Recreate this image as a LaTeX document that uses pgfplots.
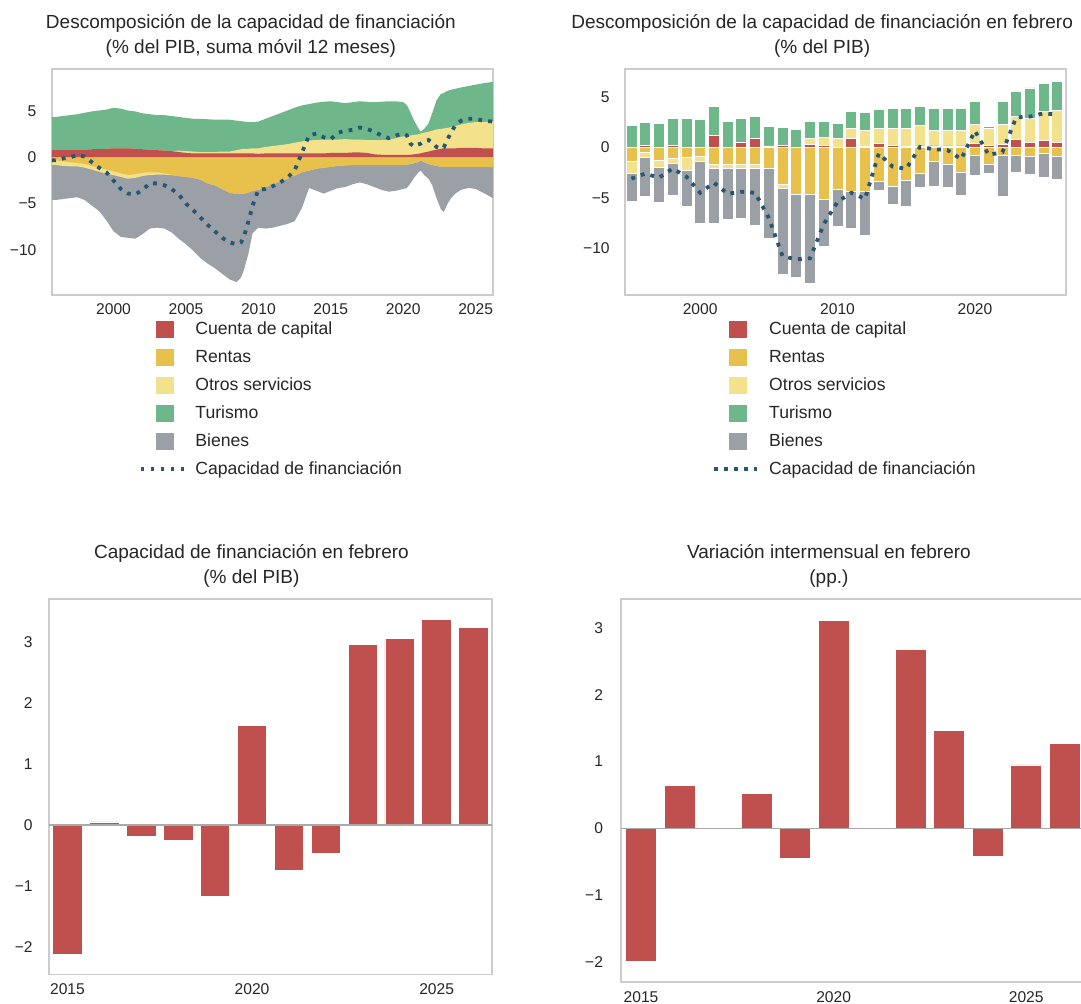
\documentclass[border=0pt]{standalone}
\usepackage{fontspec}
\setmainfont{Liberation Sans}
\usepackage{pgfplots}
\usepackage{pgfplotstable}
\pgfplotsset{compat=1.18}

\definecolor{cCap}{RGB}{192,80,77}
\definecolor{cRen}{RGB}{232,193,77}
\definecolor{cOtr}{RGB}{243,225,140}
\definecolor{cTur}{RGB}{110,183,139}
\definecolor{cBie}{RGB}{155,160,167}
\definecolor{cSal}{RGB}{38,86,117}
\definecolor{cTxt}{RGB}{38,38,38}
\definecolor{cFrame}{RGB}{204,204,204}
\definecolor{cZero}{RGB}{170,170,170}

% suma movil 12 meses: C capital, R rentas, O otros servicios, T turismo, B bienes, N saldo
\pgfplotstableread{
t C R O T B N
1995.75 0.80 -0.30 -0.50 3.60 -3.80 -0.30
1996.00 0.80 -0.30 -0.50 3.60 -3.80 -0.30
1996.50 0.85 -0.40 -0.50 3.65 -3.60 -0.10
1997.00 0.85 -0.50 -0.45 3.75 -3.45 0.00
1997.50 0.85 -0.60 -0.35 3.85 -3.35 0.30
1998.00 0.85 -0.70 -0.40 4.00 -3.50 0.10
1998.50 0.90 -0.90 -0.40 4.10 -3.90 -0.50
1999.00 0.90 -1.10 -0.45 4.20 -4.25 -1.10
1999.50 0.95 -1.30 -0.45 4.25 -5.05 -1.60
2000.00 1.00 -1.50 -0.40 4.40 -6.10 -2.50
2000.50 1.00 -1.70 -0.40 4.30 -6.50 -3.40
2001.00 1.00 -1.90 -0.40 4.10 -6.40 -3.90
2001.50 0.95 -1.80 -0.40 4.05 -6.60 -4.00
2002.00 0.90 -1.65 -0.35 3.90 -6.30 -3.50
2002.50 0.85 -1.60 -0.30 3.85 -5.80 -2.80
2003.00 0.80 -1.60 -0.25 3.80 -5.75 -2.80
2003.50 0.75 -1.70 -0.15 3.85 -5.85 -3.00
2004.00 0.70 -1.85 -0.05 3.80 -6.20 -3.40
2004.50 0.60 -2.00 0.15 3.65 -6.80 -4.00
2005.00 0.50 -2.10 0.20 3.60 -7.30 -5.00
2005.50 0.45 -2.20 0.20 3.55 -7.90 -5.70
2006.00 0.45 -2.40 0.15 3.60 -8.50 -6.50
2006.50 0.45 -2.80 0.15 3.55 -8.70 -7.30
2007.00 0.45 -3.00 0.15 3.50 -9.00 -8.00
2007.50 0.45 -3.40 0.20 3.45 -9.20 -8.70
2008.00 0.45 -3.80 0.20 3.45 -9.40 -9.20
2008.50 0.45 -3.95 0.35 3.20 -9.55 -9.40
2008.80 0.45 -3.95 0.45 3.05 -9.05 -9.20
2009.00 0.45 -3.90 0.50 2.95 -8.30 -8.60
2009.30 0.45 -3.80 0.50 2.90 -6.70 -7.00
2009.60 0.45 -3.60 0.55 2.85 -4.60 -5.20
2010.00 0.40 -3.50 0.60 2.90 -4.10 -3.50
2010.50 0.45 -3.20 0.70 3.05 -4.50 -3.40
2011.00 0.45 -2.90 0.80 3.25 -4.70 -3.10
2011.50 0.45 -2.60 0.90 3.45 -4.80 -2.70
2012.00 0.45 -2.30 1.00 3.65 -4.90 -2.20
2012.50 0.45 -1.95 1.15 3.80 -4.95 -1.40
2013.00 0.45 -1.60 1.30 3.90 -3.90 0.50
2013.50 0.45 -1.40 1.40 3.95 -1.90 2.40
2014.00 0.45 -1.20 1.45 4.05 -2.40 2.60
2014.50 0.45 -1.10 1.50 4.10 -2.80 2.20
2015.00 0.50 -1.00 1.45 4.15 -2.60 2.00
2015.50 0.50 -0.90 1.45 4.05 -2.40 2.70
2016.00 0.50 -0.85 1.50 3.90 -2.35 2.90
2016.50 0.55 -0.80 1.40 4.05 -2.10 3.00
2017.00 0.55 -0.80 1.40 4.15 -1.90 3.25
2017.50 0.50 -0.80 1.40 4.15 -2.10 3.10
2018.00 0.35 -0.80 1.55 4.10 -2.40 2.80
2018.50 0.30 -0.80 1.60 4.15 -2.70 2.40
2019.00 0.30 -0.80 1.65 4.15 -2.90 2.10
2019.50 0.30 -0.80 1.80 4.00 -2.80 2.40
2020.00 0.30 -0.80 2.00 3.70 -2.60 2.60
2020.25 0.30 -0.75 2.05 3.35 -2.55 2.40
2020.50 0.30 -0.70 2.10 2.50 -2.10 1.50
2020.75 0.35 -0.60 2.10 1.55 -1.60 1.20
2021.00 0.40 -0.50 2.10 0.80 -1.20 1.40
2021.20 0.45 -0.30 2.15 0.20 -1.10 1.50
2021.45 0.55 -0.50 2.15 0.40 -1.40 1.80
2021.75 0.65 -0.70 2.15 0.90 -1.60 1.90
2022.00 0.75 -0.80 2.15 1.90 -2.20 1.60
2022.30 0.85 -0.90 2.20 3.15 -3.50 1.15
2022.60 0.95 -1.00 2.15 3.80 -4.60 0.95
2022.80 1.00 -1.00 2.15 3.85 -4.90 1.10
2023.00 1.00 -1.00 2.20 4.00 -4.20 1.80
2023.30 1.00 -1.00 2.30 4.05 -3.40 2.70
2023.60 1.00 -1.00 2.40 4.05 -2.90 3.50
2024.00 1.05 -1.00 2.55 4.00 -2.50 4.00
2024.50 1.05 -1.00 2.70 4.00 -2.30 4.20
2025.00 1.05 -1.00 2.80 4.05 -2.40 4.20
2025.50 1.00 -1.00 2.85 4.20 -2.80 4.00
2026.20 1.00 -1.00 2.85 4.35 -3.40 3.90
}\mensual

% febrero de cada año
\pgfplotstableread{
yr C R O T B N
1995 0.00 -1.42 -1.16 2.22 -2.75 -3.10
1996 0.23 -0.53 -0.43 2.25 -3.94 -2.60
1997 0.00 -1.26 -0.69 2.38 -3.55 -3.00
1998 0.23 -1.09 -0.53 2.65 -3.11 -2.10
1999 0.00 -0.99 -1.29 2.88 -3.55 -2.90
2000 0.00 -0.93 -0.49 2.81 -6.08 -4.50
2001 1.22 -1.69 -0.39 2.82 -5.42 -3.50
2002 0.00 -1.69 -0.39 2.55 -5.07 -4.60
2003 0.46 -1.69 -0.39 2.42 -4.97 -4.40
2004 0.89 -1.69 -0.39 2.16 -5.62 -4.50
2005 0.00 -2.12 0.15 1.95 -6.88 -7.00
2006 0.20 -3.70 -0.40 1.78 -8.50 -10.80
2007 0.00 -4.63 0.00 1.82 -8.22 -11.10
2008 0.30 -4.63 0.63 1.65 -8.87 -11.00
2009 0.20 -5.13 0.80 1.58 -4.70 -7.60
2010 0.00 -4.20 0.93 1.49 -3.64 -5.40
2011 0.93 -4.37 0.92 1.73 -3.70 -4.50
2012 0.10 -4.37 1.55 1.86 -4.37 -5.10
2013 0.35 -3.37 1.50 1.89 -0.93 -0.60
2014 0.23 -3.87 1.62 2.05 -1.76 -1.90
2015 0.10 -3.31 1.75 2.05 -2.55 -2.12
2016 0.15 -2.62 2.03 1.89 -1.35 0.05
2017 0.15 -1.39 1.54 2.21 -2.48 -0.18
2018 0.15 -1.65 1.54 2.21 -2.32 -0.26
2019 0.15 -2.45 1.54 2.15 -2.35 -1.17
2020 0.35 -0.83 1.97 2.25 -1.95 1.64
2021 0.20 -1.65 1.65 0.23 -0.90 -0.74
2022 0.30 -0.83 2.02 2.25 -4.07 -0.47
2023 0.80 -0.80 2.28 2.49 -1.65 2.97
2024 0.50 -0.90 2.41 2.99 -1.75 3.06
2025 0.66 -0.56 2.92 2.81 -2.39 3.38
2026 0.50 -0.90 3.18 2.88 -2.31 3.25
}\febrero

\pgfplotstableread{
yr v
2015 -2.12
2016 0.05
2017 -0.18
2018 -0.26
2019 -1.17
2020 1.64
2021 -0.74
2022 -0.47
2023 2.97
2024 3.06
2025 3.38
2026 3.25
}\capfeb

\pgfplotstableread{
yr v
2015 -1.98
2016 0.64
2017 0.01
2018 0.52
2019 -0.45
2020 3.11
2021 -0.02
2022 2.67
2023 1.46
2024 -0.41
2025 0.95
2026 1.27
}\varfeb

\pgfplotsset{
  panel/.style={
    scale only axis, anchor=south west,
    axis line style={cFrame, line width=0.8pt},
    major tick length=0pt,
    tick label style={font=\fontsize{7.8}{9}\selectfont, color=cTxt, inner sep=0pt},
    title style={font=\fontsize{9.5}{12.5}\selectfont, color=cTxt, align=center,
      anchor=south, inner sep=0pt, yshift=-0.3pt},
  },
  sqleg/.style={legend image code/.code={
    \fill[##1, draw=none] (7.5pt,-4.25pt) rectangle (16.5pt,4.25pt);
    \path (0pt,0pt) (21.5pt,0pt);}},
  lineleg/.style={legend image code/.code={
    \draw[##1] (0pt,0pt) -- (21.5pt,0pt);}},
  leyenda/.style={
    legend style={at={(#1,-0.115)}, anchor=north west, draw=none, fill=none,
      inner sep=0pt, row sep=5.5pt, font=\fontsize{8.8}{10.5}\selectfont,
      nodes={inner sep=0pt, text=cTxt},
      /tikz/every odd column/.append style={column sep=5pt}},
    legend cell align=left},
  saldo/.style={cSal, line width=1.9pt, dash pattern=on 1.9pt off 3.1pt},
  barra/.style={ybar, bar width=0.8, bar shift=0pt, draw=white, line width=0.4pt, forget plot},
}

\begin{document}
\begin{tikzpicture}
\path[use as bounding box] (0pt,0pt) rectangle (540.5pt,-502pt);

% ---- arriba izquierda: areas apiladas ----
\begin{axis}[panel, at={(26pt,-147.5pt)}, width=220.5pt, height=113pt,
  xmin=1995.75, xmax=2026.2, ymin=-14.9, ymax=9.6,
  xtick={2000,2005,...,2025}, xticklabels={2000,2005,2010,2015,2020,2025},
  ytick={-10,-5,0,5}, yticklabels={−10,−5,0,5},
  xticklabel style={yshift=-4pt}, yticklabel style={xshift=-7.6pt},
  title style={at={(0.451,1)}},
  title={Descomposición de la capacidad de financiación\\(\% del PIB, suma móvil 12 meses)},
  leyenda=0.1955]
\addlegendimage{sqleg, fill=cCap}\addlegendentry{Cuenta de capital}
\addlegendimage{sqleg, fill=cRen}\addlegendentry{Rentas}
\addlegendimage{sqleg, fill=cOtr}\addlegendentry{Otros servicios}
\addlegendimage{sqleg, fill=cTur}\addlegendentry{Turismo}
\addlegendimage{sqleg, fill=cBie}\addlegendentry{Bienes}
\addlegendimage{lineleg, saldo}\addlegendentry{Capacidad de financiación}
\addplot[fill=cTur, draw=none, forget plot] table[x=t, y expr={\thisrow{C}+max(\thisrow{O},0)+\thisrow{T}}] {\mensual} \closedcycle;
\addplot[fill=cOtr, draw=none, forget plot] table[x=t, y expr={\thisrow{C}+max(\thisrow{O},0)}] {\mensual} \closedcycle;
\addplot[fill=cCap, draw=none, forget plot] table[x=t, y=C] {\mensual} \closedcycle;
\addplot[fill=cBie, draw=none, forget plot] table[x=t, y expr={\thisrow{R}+min(\thisrow{O},0)+\thisrow{B}}] {\mensual} \closedcycle;
\addplot[fill=cOtr, draw=none, forget plot] table[x=t, y expr={\thisrow{R}+min(\thisrow{O},0)}] {\mensual} \closedcycle;
\addplot[fill=cRen, draw=none, forget plot] table[x=t, y=R] {\mensual} \closedcycle;
\addplot[saldo, forget plot] table[x=t, y=N] {\mensual};
\end{axis}

% ---- arriba derecha: barras apiladas de febrero ----
\begin{axis}[panel, at={(312.5pt,-147.5pt)}, width=220.5pt, height=113pt,
  xmin=1994.53, xmax=2026.63, ymin=-14.64, ymax=7.78,
  xtick={2000,2010,2020}, xticklabels={2000,2010,2020},
  ytick={-10,-5,0,5}, yticklabels={−10,−5,0,5},
  xticklabel style={yshift=-4pt}, yticklabel style={xshift=-7.5pt},
  title style={at={(0.447,1)}},
  title={Descomposición de la capacidad de financiación en febrero\\(\% del PIB)},
  leyenda=0.1973]
\addlegendimage{sqleg, fill=cCap}\addlegendentry{Cuenta de capital}
\addlegendimage{sqleg, fill=cRen}\addlegendentry{Rentas}
\addlegendimage{sqleg, fill=cOtr}\addlegendentry{Otros servicios}
\addlegendimage{sqleg, fill=cTur}\addlegendentry{Turismo}
\addlegendimage{sqleg, fill=cBie}\addlegendentry{Bienes}
\addlegendimage{lineleg, saldo}\addlegendentry{Capacidad de financiación}
\addplot[barra, fill=cTur] table[x=yr, y expr={\thisrow{C}+max(\thisrow{O},0)+\thisrow{T}}] {\febrero};
\addplot[barra, fill=cOtr] table[x=yr, y expr={\thisrow{C}+max(\thisrow{O},0)}] {\febrero};
\addplot[barra, fill=cCap] table[x=yr, y=C] {\febrero};
\addplot[barra, fill=cBie] table[x=yr, y expr={\thisrow{R}+min(\thisrow{O},0)+\thisrow{B}}] {\febrero};
\addplot[barra, fill=cOtr] table[x=yr, y expr={\thisrow{R}+min(\thisrow{O},0)}] {\febrero};
\addplot[barra, fill=cRen] table[x=yr, y=R] {\febrero};
\addplot[saldo, forget plot] table[x=yr, y=N] {\febrero};
\end{axis}

% ---- abajo izquierda ----
\begin{axis}[panel, at={(24.5pt,-487.15pt)}, width=221.5pt, height=187.65pt,
  xmin=2014.5, xmax=2026.5, ymin=-2.45, ymax=3.71,
  xtick={2015,2020,2025}, xticklabels={2015,2020,2025},
  ytick={-2,-1,0,1,2,3}, yticklabels={−2,−1,0,1,2,3},
  xticklabel style={yshift=-4.5pt}, yticklabel style={xshift=-8pt},
  title style={at={(0.457,1)}},
  title={Capacidad de financiación en febrero\\(\% del PIB)}]
\addplot[barra, fill=cCap] table[x=yr, y=v] {\capfeb};
\addplot[cZero, line width=0.9pt] coordinates {(2014.5,0) (2026.5,0)};
\end{axis}

% ---- abajo derecha ----
\begin{axis}[panel, at={(310.5pt,-490.85pt)}, width=231.5pt, height=191.35pt,
  xmin=2014.48, xmax=2026.5, ymin=-2.29, ymax=3.43,
  xtick={2015,2020,2025}, xticklabels={2015,2020,2025},
  ytick={-2,-1,0,1,2,3}, yticklabels={−2,−1,0,1,2,3},
  xticklabel style={yshift=-5pt}, yticklabel style={xshift=-8.8pt},
  title style={at={(0.449,1)}},
  title={Variación intermensual en febrero\\(pp.)}]
\addplot[barra, fill=cCap] table[x=yr, y=v] {\varfeb};
\addplot[cZero, line width=0.9pt] coordinates {(2014.48,0) (2026.5,0)};
\end{axis}
\end{tikzpicture}
\end{document}
